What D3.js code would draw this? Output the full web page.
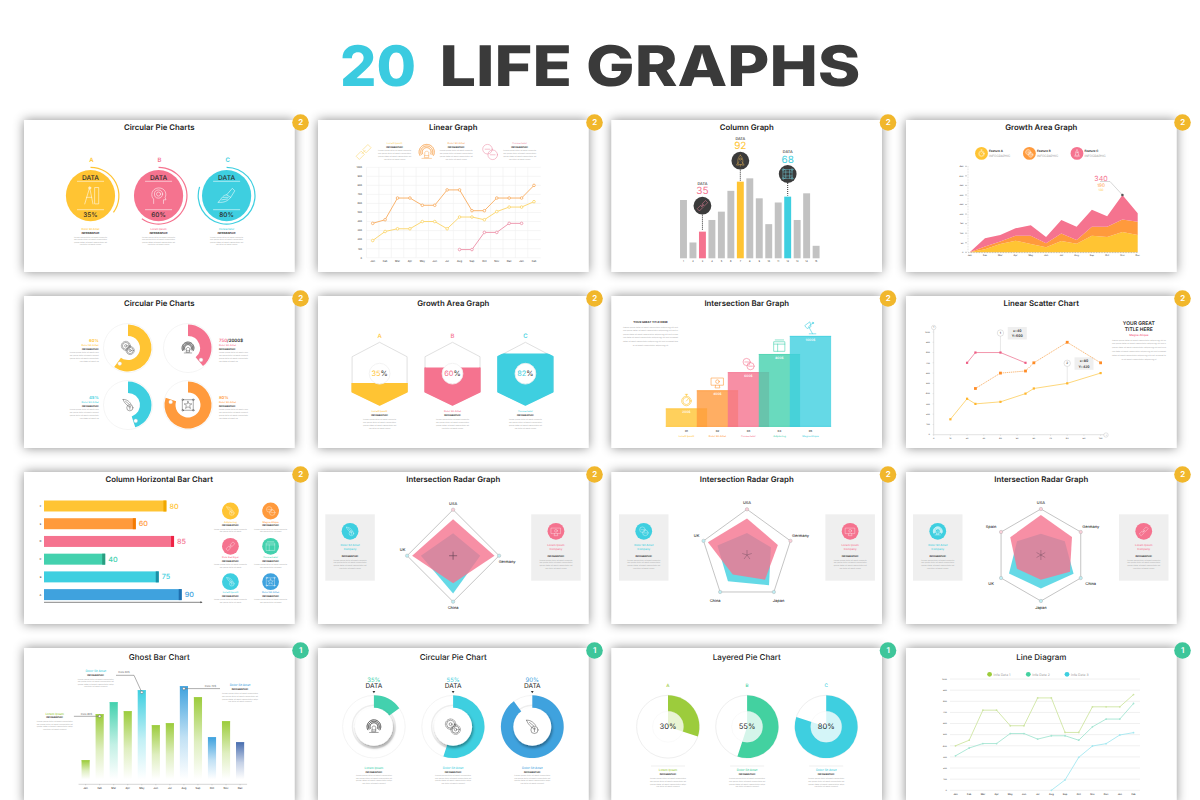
<!DOCTYPE html>
<html><head><meta charset="utf-8">
<script src="https://cdn.jsdelivr.net/npm/d3@7/dist/d3.min.js"></script>
<style>html,body{margin:0;padding:0;background:#fff}svg{display:block}text{font-family:Inter,"Open Sans",sans-serif;text-rendering:geometricPrecision}</style>
</head><body><svg id="c" width="1200" height="800"></svg>
<script>
// ---------- data ----------
const panelTitles=["Circular Pie Charts","Linear Graph","Column Graph","Growth Area Graph","Circular Pie Charts","Growth Area Graph","Intersection Bar Graph","Linear Scatter Chart","Column Horizontal Bar Chart","Intersection Radar Graph","Intersection Radar Graph","Intersection Radar Graph","Ghost Bar Chart","Circular Pie Chart","Layered Pie Chart","Line Diagram"];
const panelBadges=[2,2,2,2,2,2,2,2,2,2,2,2,1,1,1,1];
const ringLetters=["A","B","C"];
const ringValues=[35,60,80];
const ringNames=["Dolor Sit Amet","Lorem Ipsum","Consectetur"];
const months14=["Jan","Feb","Mar","Apr","May","Jun","Jul","Aug","Sep","Oct","Nov","Dec","Jan","Feb"];
const linearOrange=[380,420,660,660,580,580,750,750,520,520,660,660,660,800];
const linearYellow=[190,290,320,320,400,400,320,450,450,420,510,560,560,620];
const linearPink=[null,null,null,null,null,null,null,90,90,280,280,380,380,null];
const linearNames=["Lorem Ipsum","Dolor Sit Amet","Consectetur"];
const columnValues=[70,19,32,46,56,81,92,96,72,41,67,74,46,78,15];
const columnHighlights=[{i:2,label:"35"},{i:6,label:"92"},{i:11,label:"68"}];
const areaMonths=["Jan","Feb","Mar","Apr","May","Jun","Jul","Aug","Sep","Oct","Nov","Dec"];
const areaYellow=[0,16,44,61,44,26,59,45,87,80,106,91];
const areaOrange=[0,14,12,26,43,21,39,20,47,54,65,69];
const areaPink=[0,43,35,39,54,33,71,69,89,54,129,44];
const areaLegend=["Feature A","Feature B","Feature C"];
const donutValues=[60,39,45,80];
const donutLabels=["60%","750/2000$","45%","80%"];
const hexLetters=["A","B","C"];
const hexValues=[35,60,82];
const hexNames=["Lorem Ipsum","Dolor Sit Amet","Consectetur"];
const stepValues=[200,400,600,800,1000];
const stepIds=["01","02","03","04","05"];
const stepNames=["Lorem Ipsum","Dolor Sit Amet","Consectetur","Adipiscing","Magna Aliqua"];
const scatterYellow=[[10,150],[20,350],[25,300],[40,320],[55,400],[60,450],[80,500],[100,600]];
const scatterOrange=[[25,450],[40,600],[55,620],[60,700],[80,900],[100,700]];
const scatterPink=[[20,700],[25,800],[40,800],[55,700]];
const hbarLabels=["F","E","D","C","B","A"];
const hbarValues=[80,60,85,40,75,90];
const hbarNames=["Adipiscing","Magna Aliqua","Duis Sed Eget","Consectetur","Lorem Ipsum","Dolor Sit Amet"];
const radar4Axes=["USA","Germany","China","UK"];
const radar4Pink=[.79,.9,.6,.89];
const radar4Cyan=[.49,.59,.82,.7];
const radar5Axes=["USA","Germany","Japan","China","UK"];
const radar5Pink=[.8,.71,.67,.53,.9];
const radar5Cyan=[.48,.55,.82,.71,.68];
const radar6Axes=["USA","Germany","China","Japan","UK","Spain"];
const radar6Pink=[.87,.78,.73,.54,.6,.77];
const radar6Cyan=[.46,.6,.82,.73,.8,.6];
const ghostMonths=["Jan","Feb","Mar","Apr","May","Jun","Jul","Aug","Sep","Oct","Nov","Dec"];
const ghostValues=[19,65,77,68,89,54,56,93,82,42,58,37];
const ghostColorKeys=["green","green","teal","green","cyan","green","green","blue","green","blue","green","navy"];
const pieDonutValues=[15,55,90];
const pieDonutLabels=["35%","55%","90%"];
const pieDonutNames=["Lorem Ipsum","Dolor Sit Amet","Dolor Sit Amet"];
const layeredLetters=["A","B","C"];
const layeredValues=[30,55,80];
const layeredNames=["Lorem Ipsum","Dolor Sit Amet","Dolor Sit Amet"];
const diagramGreen=[400,450,720,720,580,580,830,830,520,520,750,750,750,860];
const diagramTeal=[310,380,420,420,510,510,460,490,490,450,570,640,640,780];
const diagramCyan=[null,null,null,null,null,null,null,0,93,296,398,419,497,518];
const diagramLegend=["Info Data 1","Info Data 2","Info Data 3"];

// ---------- styling and layout ----------
const C={yellow:'#ffc433',orange:'#ff9a3c',pink:'#f5738f',cyan:'#3ecfe0',teal:'#43d1ae',blue:'#3fa2de',green:'#9ccc3c',navy:'#4a6fb0',dark:'#2b2b2b',grey:'#b9b9b9'};
const TAU=Math.PI*2;
const svg=d3.select('#c');
const defs=svg.append('defs');
const sh=defs.append('filter').attr('id','sh').attr('x','-20%').attr('y','-20%').attr('width','140%').attr('height','140%');
sh.append('feDropShadow').attr('dx',0).attr('dy',0).attr('stdDeviation',5.5).attr('flood-color','#000').attr('flood-opacity',.45);
const sh2=defs.append('filter').attr('id','sh2').attr('x','-40%').attr('y','-40%').attr('width','180%').attr('height','180%');
sh2.append('feDropShadow').attr('dx',1).attr('dy',2).attr('stdDeviation',1.6).attr('flood-color','#000').attr('flood-opacity',.4);

const colX=[24,318,611.5,906],rowY=[120,296,472,648],panelW=270.5,panelH=152;

function T(g,x,y,s,o={}){
  const e=g.append('text').attr('x',x).attr('y',y).attr('dy','.36em').text(s)
   .attr('font-size',o.size||3).attr('font-weight',o.weight||400).attr('fill',o.fill||C.dark)
   .attr('text-anchor',o.anchor||'middle');
  if(o.len)e.attr('textLength',o.len).attr('lengthAdjust','spacingAndGlyphs');
  return e;
}
const LOREM="Lorem ipsum dolor sit amet consectetur adipiscing elit sed eiusmod tempor incididunt ut labore et dolore";
function lorem(g,x,y0,y1,n,w,anchor='middle'){
  const ys=d3.scaleLinear().domain([0,n-1]).range([y0,y1]);
  d3.range(n).forEach(i=>{
    const ww=i===n-1?w*.65:w;
    T(g,x,ys(i),LOREM.slice(i*3,i*3+Math.round(ww/.95)),{size:1.8,fill:'#a8a8a8',anchor,len:ww});
  });
}
function ICON(g,kind,x,y,s,col,sw=.55){
  const a=g.append('g').attr('transform',`translate(${x},${y}) scale(${s})`).attr('fill','none').attr('stroke',col)
    .attr('stroke-width',sw/s).attr('stroke-linejoin','round').attr('stroke-linecap','round');
  const P=d=>a.append('path').attr('d',d),Ci=(cx,cy,r)=>a.append('circle').attr('cx',cx).attr('cy',cy).attr('r',r);
  if(kind==='gears'){Ci(-.35,-.35,.55);Ci(.35,.4,.5);Ci(-.35,-.35,.2);Ci(.35,.4,.18);Ci(-.35,-.35,.72).attr('stroke-dasharray','.2 .15');Ci(.35,.4,.66).attr('stroke-dasharray','.2 .15');}
  else if(kind==='head'){P('M-.6 .95V.4C-1 .1-.9-.9 0-.95C.9-.95 1-.1.8.2L.9.5H.6V.95');Ci(0,-.2,.5);Ci(0,-.2,.25);}
  else if(kind==='compass'){P('M-.1-1L-.7 1M-.1-1L.3 1M-.5.2H.15');P('M.55-1H1V1H.55Z');Ci(-.1,-.95,.14);}
  else if(kind==='pen'){P('M-1 .8C-.6.3-.4-.1 0-.1L.5.2C.2.6-.3.9-1 .8ZM0-.1L.7-.9L1-.6L.5.2');P('M-.6.5L.1.4M-.4.2L.2.2');}
  else if(kind==='rocket'){P('M0-1C.55-.5.55.3.32.7H-.32C-.55.3-.55-.5 0-1ZM-.3.2L-.7.8H-.32M.3.2L.7.8H.32M0 .7V1');Ci(0,-.3,.2);}
  else if(kind==='frame'){P('M-.8-.8H.8V.8H-.8Z');P('M-.35-.8V.8M.35-.8V.8M-.8-.35H.8M-.8.35H.8').attr('stroke-dasharray','.12 .1');[[-.8,-.8],[.8,-.8],[-.8,.8],[.8,.8]].forEach(p=>Ci(p[0],p[1],.17));}
  else if(kind==='link'){P('M-.9.5L-.3-.1L.1.3L-.5.9ZM.9-.5L.3.1L-.1-.3L.5-.9Z');P('M-.2.2L.2-.2');}
  else if(kind==='bulb'){[.95,.75,.55].forEach(r=>P(d3.arc()({innerRadius:r,outerRadius:r,startAngle:-2.1,endAngle:2.1})).attr('stroke-dasharray','.1 .08'));P('M-.25.2C-.4-.2 .4-.2.25.2V.7H-.25ZM-.25.45H.25');P('M-.6.8H.6');}
  else if(kind==='star'){P('M-.85-.85H.85V.85H-.85Z');[[-.85,-.85],[.85,-.85],[-.85,.85],[.85,.85]].forEach(p=>Ci(p[0],p[1],.13));P('M0-.6L.18-.18L.62-.18L.26.1L.4.55L0 .28L-.4.55L-.26.1L-.62-.18L-.18-.18Z');}
  else if(kind==='hand'){P('M-.8-.9C-.2-1 .4-.4.5-.1M-.8-.9C-.6-.3-.2 0 .1.2M-.4-.6L.2-.1');Ci(.3,.45,.5);P('M.3.15V.7M.15.3H.45');}
  else if(kind==='clock'){Ci(0,.1,.8);P('M0 .1L.3-.25M-.2-1H.2M0-1V-.7');Ci(0,.1,.6);}
  else if(kind==='monitor'){P('M-1-.7H1V.5H-1ZM-.3.5L-.4.95H.4L.3.5');Ci(0,-.1,.3);}
  else if(kind==='rings'){Ci(-.3,-.35,.6);Ci(.35,.35,.6);P('M-.6-.35H0M.05.35H.65');}
  else if(kind==='cards'){P('M-.9-.7H.9V.9H-.9ZM-.7-1H.7M-.9-.3H.9M-.3-.3V.9');}
  else if(kind==='lamp'){P('M-.2 1H.9M.35 1L-.3-.2L.4-.8M-.9-.4L-.1-1L.1-.2L-.5 .1Z');Ci(.4,-.8,.12);}
  else{Ci(0,0,.8);P('M-.8 0H.8M0-.8V.8');}
}

// ---------- panels ----------
panelTitles.forEach((title,i)=>{
  const x=colX[i%4],y=rowY[Math.floor(i/4)],row=Math.floor(i/4),col=panelBadges[i]===1?'#3ec69a':'#f1b72c';
  svg.append('rect').attr('x',x).attr('y',y).attr('width',panelW).attr('height',row===3?panelH+4:panelH).attr('fill','#fff').attr('filter','url(#sh)');
  svg.append('circle').attr('cx',x+panelW+6).attr('cy',y+2.5).attr('r',8.3).attr('fill',col);
  T(svg,x+panelW+6.2,y+2.3,panelBadges[i],{size:8,weight:600,fill:'#fff'});
  T(svg,x+panelW/2,y+(row===3?8.7:7.3),title,{size:row===3?8:7.8,weight:row===3?500:600,fill:'#222'});
});
// page title
T(svg,378,66,"20",{size:56,weight:800,fill:'#3bcbe0',len:76});
T(svg,650,66,"LIFE GRAPHS",{size:56,weight:800,fill:'#3a3a3a',len:421});

// --- 1 ring circles
(function(){
  const g=svg.append('g'),cols=[C.yellow,C.pink,C.cyan],txt=['#ffc433','#f5738f','#3ecfe0'],icons=['compass','head','pen'];
  const xs=d3.scalePoint().domain(ringLetters).range([90.5,226.6]),a=d3.scaleLinear().domain([0,100]).range([0,TAU]),cy=195.7;
  ringLetters.forEach((L,i)=>{
    const cx=xs(L);
    T(g,cx+1,160,L,{size:6,weight:600,fill:txt[i]});
    g.append('ellipse').attr('cx',cx).attr('cy',cy).attr('rx',24.6).attr('ry',25.6).attr('fill',cols[i]);
    g.append('path').attr('transform',`translate(${cx},${cy})`).attr('fill',cols[i])
      .attr('d',d3.arc()({innerRadius:27.8,outerRadius:29,startAngle:0,endAngle:a(ringValues[i])}));
    T(g,cx,177.3,"DATA",{size:6.6,weight:500});
    g.append('path').attr('d',`M${cx-13.5} 181.3H${cx+13.5}M${cx-13.5} 209.7H${cx+13.5}`).attr('stroke','#fff').attr('stroke-opacity',.8).attr('stroke-width',.7);
    T(g,cx,214.4,ringValues[i]+"%",{size:6.4,weight:500});
    ICON(g,icons[i],cx,cy,8.2,'#fff',.55);
    T(g,cx,228.8,ringNames[i],{size:2.6,weight:500,fill:txt[i]});
    T(g,cx,233,"INFOGRAPHIC",{size:2.6,weight:700});
    lorem(g,cx,237.2,244.2,4,33);
  });
})();

// --- 2 linear graph
function monthAxisLabels(g,x,ys,labels,fs=2.6){labels.forEach((m,i)=>T(g,x(i),ys,m,{size:fs,fill:'#333'}));}
(function(){
  const g=svg.append('g');
  const x=d3.scalePoint().domain(d3.range(14)).range([372.7,534]),y=d3.scaleLinear().domain([0,1000]).range([257.7,167.3]);
  d3.range(0,1001,100).forEach(v=>{
    g.append('line').attr('x1',366.6).attr('x2',540.8).attr('y1',y(v)).attr('y2',y(v)).attr('stroke','#f0f0f0').attr('stroke-width',.6);
    T(g,362,y(v),v,{size:2.4,anchor:'end',fill:'#333'});
  });
  d3.range(14).forEach(i=>g.append('line').attr('x1',x(i)-6.2).attr('x2',x(i)-6.2).attr('y1',167.3).attr('y2',257.7).attr('stroke','#f0f0f0').attr('stroke-width',.6));
  monthAxisLabels(g,x,261.5,months14);
  const L=d3.line().defined(d=>d!==null).x((d,i)=>x(i)).y(d=>y(d));
  [[linearOrange,'#f8ab5e'],[linearYellow,'#fbd466'],[linearPink,'#ec8fa7']].forEach(([s,c])=>{
    g.append('path').attr('d',L(s)).attr('fill','none').attr('stroke',c).attr('stroke-width',.9);
    s.forEach((v,i)=>{if(v!==null)g.append('circle').attr('cx',x(i)).attr('cy',y(v)).attr('r',1.3).attr('fill','#fff').attr('stroke',c).attr('stroke-width',.8);});
  });
  const xs=[394.6,456.2,519.7],ic=[363.6,426.7,489.9],kinds=['link','bulb','rings'],cl=['#fbd466','#f8ab5e','#ec8fa7'];
  linearNames.forEach((n,i)=>{
    ICON(g,kinds[i],ic[i],152,8,cl[i],.55);
    T(g,xs[i],143,n,{size:2.5,weight:500,fill:cl[i]});
    T(g,xs[i],147,"INFOGRAPHIC",{size:2.4,weight:700});
    lorem(g,xs[i],150.7,159,4,33);
  });
})();

// --- 3 column graph
(function(){
  const g=svg.append('g');
  const x=d3.scaleBand().domain(d3.range(15)).range([678.8,820.8]).paddingInner(.27).paddingOuter(.13);
  const y=d3.scaleLinear().domain([0,100]).range([258.3,175]);
  const hi={2:C.pink,6:C.yellow,11:C.cyan};
  columnValues.forEach((v,i)=>{
    g.append('rect').attr('x',x(i)).attr('y',y(v)).attr('width',x.bandwidth()).attr('height',y(0)-y(v)).attr('fill',hi[i]||'#c2c2c2');
    T(g,x(i)+x.bandwidth()/2,261.5,i+1,{size:2.4});
  });
  const cy=[205.7,160.7,174],iconK=['link','rocket','frame'],lc=['#e8829a','#d8aa55','#6ec3cf'];
  columnHighlights.forEach((h,k)=>{
    const cx=x(h.i)+x.bandwidth()/2,c=hi[h.i];
    g.append('line').attr('x1',cx).attr('x2',cx).attr('y1',cy[k]+9).attr('y2',y(columnValues[h.i])-1).attr('stroke','#333').attr('stroke-width',1).attr('stroke-dasharray','1 1');
    g.append('circle').attr('cx',cx).attr('cy',cy[k]).attr('r',8.9).attr('fill','#3b3b3b');
    ICON(g,iconK[k],cx,cy[k],5.5,lc[k],.5);
    T(g,cx,cy[k]-22.3,"DATA",{size:3.8,weight:500});
    T(g,cx,cy[k]-15,h.label,{size:10,weight:400,fill:c});
  });
})();

// --- 4 growth area
(function(){
  const g=svg.append('g');
  const x=d3.scalePoint().domain(d3.range(12)).range([969.7,1137.7]),y=d3.scaleLinear().domain([0,450]).range([252.3,166.3]);
  const rows=areaMonths.map((m,i)=>({i,a:areaYellow[i],b:areaOrange[i],c:areaPink[i]}));
  const st=d3.stack().keys(['a','b','c'])(rows);
  const ar=d3.area().x(d=>x(d.data.i)).y0(d=>y(d[0])).y1(d=>y(d[1]));
  [C.yellow,'#ff9a3c',C.pink].forEach((c,k)=>g.append('path').attr('d',ar(st[k])).attr('fill',c));
  d3.range(0,451,50).forEach(v=>{g.append('line').attr('x1',965).attr('x2',967).attr('y1',y(v)).attr('y2',y(v)).attr('stroke','#777').attr('stroke-width',.4);T(g,963.5,y(v),v,{size:2.2,anchor:'end'});});
  g.append('line').attr('x1',968).attr('x2',968).attr('y1',166).attr('y2',252).attr('stroke','#aaa').attr('stroke-width',.4).attr('stroke-dasharray','.8 .8');
  g.append('line').attr('x1',968).attr('x2',1138).attr('y1',252.6).attr('y2',252.6).attr('stroke','#777').attr('stroke-width',.5).attr('stroke-dasharray','.8 .8');
  areaMonths.forEach((m,i)=>T(g,x(i),255.5,m,{size:2.4}));
  const px=x(10),py=y(300);
  g.append('path').attr('d',`M${px} ${py}L1110 181.5H1100`).attr('fill','none').attr('stroke','#999').attr('stroke-width',.4);
  g.append('circle').attr('cx',px).attr('cy',py).attr('r',1.3).attr('fill','#555');
  T(g,1101,178.5,"340",{size:7,fill:C.pink});
  T(g,1101,185,"190",{size:4.6,fill:C.orange});
  T(g,1101,189.5,"130",{size:3,fill:C.yellow});
  const lx=[981.5,1029.4,1077],cc=[C.yellow,C.orange,C.pink],ks=['clock','gears','rocket'];
  areaLegend.forEach((n,i)=>{
    g.append('circle').attr('cx',lx[i]).attr('cy',153.4).attr('r',6.4).attr('fill',cc[i]);
    ICON(g,ks[i],lx[i],153.4,3.6,'#fff',.35);
    T(g,lx[i]+7.6,151.3,n,{size:3,weight:600,anchor:'start'});
    T(g,lx[i]+7.6,155.6,"INFOGRAPHIC",{size:3.1,fill:'#999',anchor:'start'});
  });
})();

// --- 5 donuts
(function(){
  const g=svg.append('g');
  const a=d3.scaleLinear().domain([0,100]).range([0,TAU]);
  const cx=[128,188,128,188],cy=[348,348,405,405],cols=[C.yellow,C.pink,C.cyan,C.orange],ks=['gears','bulb','hand','star'],out=[98.7,218.9,98.7,218.9],inner=[12,12,12,12.5];
  donutValues.forEach((v,i)=>{
    g.append('circle').attr('cx',cx[i]).attr('cy',cy[i]).attr('r',24.5).attr('fill','#fff').attr('stroke','#eee').attr('stroke-width',.6);
    g.append('path').attr('transform',`translate(${cx[i]},${cy[i]})`).attr('fill',cols[i]).attr('d',d3.arc()({innerRadius:inner[i],outerRadius:23.5,startAngle:0,endAngle:a(v)}));
    ICON(g,ks[i],cx[i],cy[i],6.2,'#555',.5);
    const e=a(v)-.14,r=17.6;
    g.append('circle').attr('cx',cx[i]+r*Math.sin(e)).attr('cy',cy[i]-r*Math.cos(e)).attr('r',1.9).attr('fill','#fff').attr('stroke','#ccc').attr('stroke-width',.3);
    const anc=i%2?'start':'end',oy=cy[i]-7.3;
    if(i===1){
      const t=T(g,out[i],oy,"",{size:4.4,weight:600,anchor:anc});
      t.append('tspan').attr('fill',C.pink).text("750");t.append('tspan').text("/2000$");
    } else T(g,out[i],oy,donutLabels[i],{size:4.2,weight:600,fill:cols[i],anchor:anc});
    T(g,out[i],oy+4,"Dolor Sit Amet",{size:2.5,weight:500,fill:cols[i],anchor:anc});
    T(g,out[i],oy+8,"INFOGRAPHIC",{size:2.4,weight:700,anchor:anc});
    lorem(g,out[i],oy+12,oy+20.3,4,29,anc);
  });
})();

// --- 6 hexagons
(function(){
  const g=svg.append('g');
  const xs=d3.scalePoint().domain(hexLetters).range([379.6,525.4]),y=d3.scaleLinear().domain([0,100]).range([405,342.3]);
  const cols=[C.yellow,C.pink,C.cyan],wid=27.5;
  hexLetters.forEach((L,i)=>{
    const cx=xs(L);
    const hx=[[0,100],[wid,77],[wid,21],[0,0],[-wid,21],[-wid,77]];
    const line=d3.line().x(d=>cx+d[0]).y(d=>y(d[1])).curve(d3.curveLinearClosed);
    const id='hx'+i;
    defs.append('clipPath').attr('id',id).append('rect').attr('x',cx-wid-2).attr('y',y(hexValues[i])).attr('width',2*wid+4).attr('height',y(0)-y(hexValues[i])+2);
    g.append('path').attr('d',line(hx)).attr('fill','#fff').attr('stroke','#dcdcdc').attr('stroke-width',.9).attr('stroke-linejoin','round');
    g.append('path').attr('d',line(hx)).attr('fill',cols[i]).attr('stroke',cols[i]).attr('stroke-width',1.4).attr('stroke-linejoin','round').attr('clip-path',`url(#${id})`);
    g.append('circle').attr('cx',cx).attr('cy',373.7).attr('r',10.4).attr('fill','#fff').attr('stroke','#f0f0f0').attr('stroke-width',.8);
    const t=T(g,cx,373.7,"",{size:7.4});
    t.append('tspan').attr('fill',cols[i]).text(hexValues[i]);t.append('tspan').attr('fill','#333').text("%");
    T(g,cx,335.7,L,{size:6,weight:500,fill:cols[i]});
    T(g,cx,411,hexNames[i],{size:2.5,weight:500,fill:cols[i]});
    T(g,cx,415,"INFOGRAPHIC",{size:2.4,weight:700});
    lorem(g,cx,419,428,4,33);
  });
})();

// --- 7 step bars
(function(){
  const g=svg.append('g');
  const x=d3.scaleLinear().domain([0,4]).range([665.8,789.8]),y=d3.scaleLinear().domain([0,1000]).range([426.7,336]);
  const cols=[C.yellow,C.orange,C.pink,C.teal,C.cyan],ks=['clock','monitor','rings','cards','lamp'],w=41.3;
  stepValues.forEach((v,i)=>{
    g.append('rect').attr('x',x(i)).attr('y',y(v)).attr('width',w).attr('height',y(0)-y(v)).attr('fill',cols[i]).attr('fill-opacity',.8);
    g.append('line').attr('x1',x(i)).attr('x2',x(i)+w).attr('y1',y(v)+.3).attr('y2',y(v)+.3).attr('stroke',cols[i]).attr('stroke-width',.7);
    g.append('line').attr('x1',x(i)).attr('x2',x(i)+w).attr('y1',y(0)-.3).attr('y2',y(0)-.3).attr('stroke',cols[i]).attr('stroke-width',.7);
    T(g,x(i)+w/2,y(v)+3.4,v+"$",{size:3.2,weight:600,fill:'#fff'});
    T(g,x(i)+w/2,430.7,stepIds[i],{size:2.8,weight:500});
    T(g,x(i)+w/2,435.7,stepNames[i],{size:2.5,weight:500,fill:cols[i]});
    ICON(g,ks[i],x(i)+w/2,y(v)-8.2,6,cols[i],.6);
  });
  T(g,650.5,322,"YOUR GREAT TITLE HERE",{size:2.8,weight:700});
  lorem(g,650.5,327,345,6,55);
})();

// --- 8 scatter
(function(){
  const g=svg.append('g');
  const x=d3.scaleLinear().domain([0,100]).range([933.7,1100.6]),y=d3.scaleLinear().domain([0,1000]).range([434.7,332]);
  d3.range(0,1001,100).forEach(v=>{T(g,930,y(v),v,{size:2.2,anchor:'end'});g.append('line').attr('x1',x(0)-1).attr('x2',x(0)).attr('y1',y(v)).attr('y2',y(v)).attr('stroke','#999').attr('stroke-width',.3);});
  d3.range(0,101,10).forEach(v=>{T(g,x(v),437.8,v,{size:2.2});g.append('line').attr('x1',x(v)).attr('x2',x(v)).attr('y1',y(0)).attr('y2',y(0)+1).attr('stroke','#999').attr('stroke-width',.3);});
  g.append('path').attr('d',`M${x(0)} 328V${y(0)}H1106`).attr('fill','none').attr('stroke','#d0d0d0').attr('stroke-width',.6);
  [[x(0),327.5,'↑'],[1106,435,'→']].forEach(p=>{g.append('circle').attr('cx',p[0]).attr('cy',p[1]).attr('r',2.2).attr('fill','#fff').attr('stroke','#bbb').attr('stroke-width',.4);T(g,p[0],p[1],p[2],{size:2.4,fill:'#777'});});
  const L=d3.line().x(d=>x(d[0])).y(d=>y(d[1]));
  [[40,800,'1',333,"x=40","Y=600"],[80,500,'2',363.3,"x=80","Y=420"]].forEach(c=>{
    const cx=x(c[0]);
    g.append('line').attr('x1',cx).attr('x2',cx).attr('y1',c[3]).attr('y2',y(c[1])).attr('stroke','#d8d8d8').attr('stroke-width',.6);
    g.append('circle').attr('cx',cx).attr('cy',c[3]).attr('r',3.2).attr('fill','#fff').attr('stroke','#bbb').attr('stroke-width',.4);
    T(g,cx,c[3],c[2],{size:3,weight:500});
    g.append('rect').attr('x',cx+7.3).attr('y',c[3]-6).attr('width',19).attr('height',12.5).attr('fill','#efefef');
    T(g,cx+16.8,c[3]-2.5,c[4],{size:3.4,weight:600});
    T(g,cx+16.8,c[3]+3,c[5],{size:3.4,weight:600});
  });
  g.append('path').attr('d',L(scatterYellow)).attr('fill','none').attr('stroke','#fdcd5a').attr('stroke-width',.8);
  g.append('path').attr('d',L(scatterOrange)).attr('fill','none').attr('stroke','#f8ab5e').attr('stroke-width',.8).attr('stroke-dasharray','1.4 .7');
  g.append('path').attr('d',L(scatterPink)).attr('fill','none').attr('stroke','#f08aa3').attr('stroke-width',.9);
  [[scatterYellow,'#ffb52e',1.1],[scatterOrange,'#ff8c26',1.4],[scatterPink,'#ee5d85',1.1]].forEach(([s,c,r])=>{
    g.selectAll(null).data(s).enter().append('rect').attr('x',d=>x(d[0])-r).attr('y',d=>y(d[1])-r).attr('width',2*r).attr('height',2*r).attr('fill',c);
  });
  T(g,1138.8,323,"YOUR GREAT",{size:5,weight:600});
  T(g,1138.8,329,"TITLE HERE",{size:5,weight:600});
  T(g,1138.8,335.3,"Magna Aliqua",{size:2.9,weight:600,fill:C.pink});
  lorem(g,1139,340,359,6,54);
})();

// --- 9 horizontal bars
(function(){
  const g=svg.append('g');
  const x=d3.scaleLinear().domain([0,100]).range([44,197]),y=d3.scaleBand().domain(hbarLabels).range([500.5,600.1]).paddingInner(.38).paddingOuter(.0);
  const cols=[C.yellow,C.orange,C.pink,C.teal,C.cyan,C.blue],cap=['#f0a800','#f47b00','#ee2244','#2a9d80','#1a8fa5','#1f70b0'];
  hbarLabels.forEach((L,i)=>{
    const v=hbarValues[i];
    g.append('rect').attr('x',x(0)).attr('y',y(L)).attr('width',x(v)-x(0)).attr('height',y.bandwidth()).attr('fill',cols[i]);
    g.append('rect').attr('x',x(v)-3).attr('y',y(L)).attr('width',3).attr('height',y.bandwidth()).attr('fill',cap[i]);
    T(g,40.5,y(L)+y.bandwidth()/2,L,{size:2.6});
    T(g,x(v)+3,y(L)+y.bandwidth()/2,v,{size:7.2,weight:500,fill:cols[i],anchor:'start'});
  });
  g.append('path').attr('d','M44 602.3H201').attr('stroke','#333').attr('stroke-width',.6);
  g.append('path').attr('d','M202.5 602.3l-2 -1v2z').attr('fill','#333');
  const cx=[230.4,270.6],cy=[511,546.3,581.7],ks=['hand','rings','link','cards','hand','star'];
  hbarNames.forEach((n,i)=>{
    const X=cx[i%2],Y=cy[Math.floor(i/2)];
    g.append('circle').attr('cx',X).attr('cy',Y).attr('r',8.4).attr('fill',cols[i]);
    ICON(g,ks[i],X,Y,4.6,'#fff',.35);
    T(g,X,Y+10.7,n,{size:2.5,weight:500,fill:cols[i]});
    T(g,X,Y+14.5,"INFOGRAPHIC",{size:2.4,weight:700});
    lorem(g,X,Y+18,Y+20.6,2,33);
  });
})();

// --- 10-12 radars
function radar(cx,cy,R,axes,pink,cyan,off,leftX,rightX,names){
  const g=svg.append('g');
  const n=axes.length,r=d3.scaleLinear().domain([0,1]).range([0,R]);
  const rad=d3.lineRadial().angle((d,i)=>i/n*TAU).radius(d=>r(d)).curve(d3.curveLinearClosed);
  [[leftX,names[0],C.cyan,names[2]],[rightX,names[1],C.pink,names[3]]].forEach(([bx,t,c,k])=>{
    g.append('rect').attr('x',bx).attr('y',514.3).attr('width',49.5).attr('height',66.4).attr('fill','#efefef');
    const mx=bx+24.75;
    g.append('circle').attr('cx',mx).attr('cy',531.3).attr('r',8.4).attr('fill',c);
    ICON(g,k,mx,531.3,4.6,'#fff',.35);
    T(g,mx,545.3,t,{size:2.8,weight:500,fill:c});
    T(g,mx,549.4,"Company",{size:2.8,weight:500,fill:c});
    T(g,mx,556.3,"INFOGRAPHIC",{size:2.4,weight:700});
    lorem(g,mx,560,568,4,33);
  });
  const ring=axes.map(()=>1);
  g.append('path').attr('transform',`translate(${cx},${cy})`).attr('d',rad(ring)).attr('fill','#fff').attr('stroke','#bdbdbd').attr('stroke-width',.9);
  g.append('path').attr('transform',`translate(${cx},${cy})`).attr('d',rad(cyan)).attr('fill','#3ecfe0').attr('fill-opacity',.8);
  g.append('path').attr('transform',`translate(${cx},${cy})`).attr('d',rad(pink)).attr('fill','#f5738f').attr('fill-opacity',.8);
  axes.forEach((a,i)=>{
    const t=i/n*TAU,vx=cx+r(1)*Math.sin(t),vy=cy-r(1)*Math.cos(t);
    g.append('circle').attr('cx',vx).attr('cy',vy).attr('r',1.7).attr('fill',(i<1||(n>4&&i===1)||i===n-1&&n===6)?'#fbd0da':'#bfeef4').attr('stroke','#aaa').attr('stroke-width',.4);
    T(g,vx+off[i][0],vy+off[i][1],a,{size:3.9,weight:500});
    const sp=n===4?4:5;
    g.append('line').attr('x1',cx).attr('y1',cy).attr('x2',cx+sp*Math.sin(t)).attr('y2',cy-sp*Math.cos(t)).attr('stroke','#6d4a5a').attr('stroke-width',.4);
    if(n===4)g.append('line').attr('x1',cx).attr('y1',cy).attr('x2',cx-sp*Math.sin(t)).attr('y2',cy+sp*Math.cos(t)).attr('stroke','#6d4a5a').attr('stroke-width',.4);
  });
}
radar(453.1,555.7,46,radar4Axes,radar4Pink,radar4Cyan,[[0,-6.5],[8,6],[0,5.7],[-4.5,-5.7]],325.3,531.2,["Dolor Sit Amet","Lorem Ipsum","hand","monitor"]);
radar(747,555,45.7,radar5Axes,radar5Pink,radar5Cyan,[[0,-6.5],[10,-5],[4.7,8.3],[-5,8.3],[-7,-5]],619,825.4,["Dolor Sit Amet","Lorem Ipsum","rings","monitor"]);
radar(1040.9,555,46,radar6Axes,radar6Pink,radar6Cyan,[[0,-6.5],[10,-5.7],[10,5.7],[0,7],[-10,5.7],[-10,-5.7]],913,1119,["Dolor Sit Amet","Lorem Ipsum","bulb","link"]);

// --- 13 ghost bars
(function(){
  const g=svg.append('g');
  const x=d3.scaleBand().domain(d3.range(12)).range([78.6,247.1]).paddingInner(.42).paddingOuter(.21),y=d3.scaleLinear().domain([0,100]).range([779.3,679.3]);
  ['green','teal','cyan','blue','navy'].forEach(k=>{
    const lg=defs.append('linearGradient').attr('id','gb'+k).attr('x1',0).attr('x2',0).attr('y1',0).attr('y2',1);
    lg.append('stop').attr('offset',0).attr('stop-color',C[k]);
    lg.append('stop').attr('offset',.55).attr('stop-color',C[k]).attr('stop-opacity',.32);
    lg.append('stop').attr('offset',1).attr('stop-color',C[k]).attr('stop-opacity',0);
  });
  ghostValues.forEach((v,i)=>{
    const k=ghostColorKeys[i];
    g.append('rect').attr('x',x(i)).attr('y',y(v)).attr('width',x.bandwidth()).attr('height',y(0)-y(v)).attr('fill',`url(#gb${k})`);
    g.append('rect').attr('x',x(i)).attr('y',y(v)).attr('width',x.bandwidth()).attr('height',.8).attr('fill',C[k]);
    const m=x(i)+x.bandwidth()/2;
    g.append('line').attr('x1',m).attr('x2',m).attr('y1',784.3).attr('y2',785.2).attr('stroke','#777').attr('stroke-width',.4);
    T(g,m,787.7,ghostMonths[i],{size:2.6});
  });
  g.append('line').attr('x1',78.6).attr('x2',247.1).attr('y1',784.3).attr('y2',784.3).attr('stroke','#aaa').attr('stroke-width',.5);
  const px=i=>x(i)+x.bandwidth()/2;
  const L=d3.line().x(d=>d[0]).y(d=>d[1]);
  const co=[[1,y(65)+2,[[73.9,y(65)+2]],"Data 80$",86.5,713.8],[4,y(89)+2,[[134,675.3],[116,675.3]],"Data 60$",124,671.7],[7,y(93)+2.3,[[220,y(93)+2.3]],"Data 40$",210.5,685.7]];
  co.forEach(c=>{
    const pts=[[px(c[0]),c[1]],...c[2]];
    g.append('path').attr('d',L(pts)).attr('fill','none').attr('stroke','#777').attr('stroke-width',.6);
    g.append('circle').attr('cx',pts[0][0]).attr('cy',pts[0][1]).attr('r',1.3).attr('fill','#fff').attr('stroke','#444').attr('stroke-width',.4);
    T(g,c[4],c[5],c[3],{size:2.6,fill:'#777'});
  });
  T(g,54.7,713.7,"Lorem Ipsum",{size:3,weight:500,fill:C.green});
  T(g,54.7,717.4,"INFOGRAPHIC",{size:2.4,weight:700});
  lorem(g,54.7,721.2,729.3,4,36);
  T(g,95.7,671.4,"Dolor Sit Amet",{size:3,weight:500,fill:C.cyan});
  T(g,95.7,675.4,"INFOGRAPHIC",{size:2.4,weight:700});
  lorem(g,95.7,679.2,686.8,4,36);
  T(g,240,685.4,"Dolor Sit Amet",{size:3,weight:500,fill:C.blue});
  T(g,240,689.4,"INFOGRAPHIC",{size:2.4,weight:700});
  lorem(g,240,693.2,701.7,4,36);
})();

// --- 14 circular pie chart
(function(){
  const g=svg.append('g');
  const xs=d3.scalePoint().domain(d3.range(3)).range([373.9,532.3]),a=d3.scaleLinear().domain([0,100]).range([0,TAU]),cy=726.7;
  const cols=[C.teal,C.cyan,C.blue],ks=['bulb','gears','hand'],rIn=[14,14,14];
  pieDonutValues.forEach((v,i)=>{
    const cx=xs(i);
    g.append('circle').attr('cx',cx).attr('cy',cy).attr('r',31.3).attr('fill','#fff').attr('stroke','#f1f1f1').attr('stroke-width',.8);
    g.append('circle').attr('cx',cx).attr('cy',cy).attr('r',21.5).attr('fill','none').attr('stroke','#eee').attr('stroke-width',1.4);
    g.append('path').attr('transform',`translate(${cx},${cy})`).attr('fill',cols[i]).attr('d',d3.arc()({innerRadius:rIn[i],outerRadius:31.4,startAngle:0,endAngle:a(v)}));
    g.append('circle').attr('cx',cx).attr('cy',cy).attr('r',19).attr('fill','#fff').attr('filter','url(#sh2)');
    ICON(g,ks[i],cx,cy,7.2,'#444',.5);
    T(g,cx,679.7,pieDonutLabels[i],{size:6,weight:400,fill:cols[i]});
    T(g,cx,685.6,"DATA",{size:6.6,weight:400});
    g.append('path').attr('d',`M${cx-1.4} 691H${cx+1.4}L${cx} 693.2Z`).attr('fill','#333');
    T(g,cx,767.7,pieDonutNames[i],{size:3,weight:500,fill:cols[i]});
    T(g,cx,771.7,"INFOGRAPHIC",{size:2.4,weight:700});
    lorem(g,cx,775.7,783.3,4,36);
  });
})();

// --- 15 layered pie chart
(function(){
  const g=svg.append('g');
  const xs=d3.scalePoint().domain(layeredLetters).range([668,826.2]),a=d3.scaleLinear().domain([0,100]).range([0,TAU]),cy=726.7;
  const cols=[C.green,'#43d1a0',C.cyan];
  layeredLetters.forEach((L,i)=>{
    const cx=xs(L);
    g.append('circle').attr('cx',cx).attr('cy',cy).attr('r',31.4).attr('fill','#fff').attr('stroke','#efefef').attr('stroke-width',1);
    g.append('path').attr('transform',`translate(${cx},${cy})`).attr('fill',cols[i]).attr('d',d3.arc()({innerRadius:0,outerRadius:31.4,startAngle:0,endAngle:a(layeredValues[i])}));
    g.append('circle').attr('cx',cx).attr('cy',cy).attr('r',15.5).attr('fill','#fff').attr('fill-opacity',.78).attr('stroke','#eee').attr('stroke-width',.3);
    T(g,cx,726.7,layeredValues[i]+"%",{size:7.6,weight:400});
    T(g,cx,685.7,L,{size:4.6,weight:500,fill:cols[i]});
    g.append('line').attr('x1',cx-17).attr('x2',cx+17).attr('y1',766).attr('y2',766).attr('stroke','#e8e8e8').attr('stroke-width',.7);
    T(g,cx,770.3,layeredNames[i],{size:3,weight:500,fill:cols[i]});
    T(g,cx,774.4,"INFOGRAPHIC",{size:2.4,weight:700});
    lorem(g,cx,778.7,786.7,4,36);
  });
})();

// --- 16 line diagram
(function(){
  const g=svg.append('g');
  const x=d3.scalePoint().domain(d3.range(14)).range([955.5,1133.5]),y=d3.scaleLinear().domain([0,1000]).range([790.3,679]);
  d3.range(0,1001,100).forEach(v=>{
    g.append('line').attr('x1',950).attr('x2',1140).attr('y1',y(v)).attr('y2',y(v)).attr('stroke','#f0f0f0').attr('stroke-width',1);
    T(g,947,y(v),v,{size:2.2,anchor:'end'});
  });
  months14.forEach((m,i)=>T(g,x(i),794.4,m,{size:2.4,weight:500}));
  const L=d3.line().defined(d=>d!==null).x((d,i)=>x(i)).y(d=>y(d));
  [[diagramGreen,'#cfe5a3'],[diagramTeal,'#a5e5d3'],[diagramCyan,'#a5e8f0']].forEach(([s,c])=>{
    g.append('path').attr('d',L(s)).attr('fill','none').attr('stroke',c).attr('stroke-width',.9);
    s.forEach((v,i)=>{if(v!==null)g.append('circle').attr('cx',x(i)).attr('cy',y(v)).attr('r',.9).attr('fill',c);});
  });
  const lx=[989.6,1028.3,1067],cc=[C.green,'#43d1a0',C.cyan];
  diagramLegend.forEach((n,i)=>{
    g.append('circle').attr('cx',lx[i]).attr('cy',674.3).attr('r',2.4).attr('fill',cc[i]);
    T(g,lx[i]+4,674.3,n,{size:3.4,fill:'#999',anchor:'start'});
  });
})();
</script></body></html>
